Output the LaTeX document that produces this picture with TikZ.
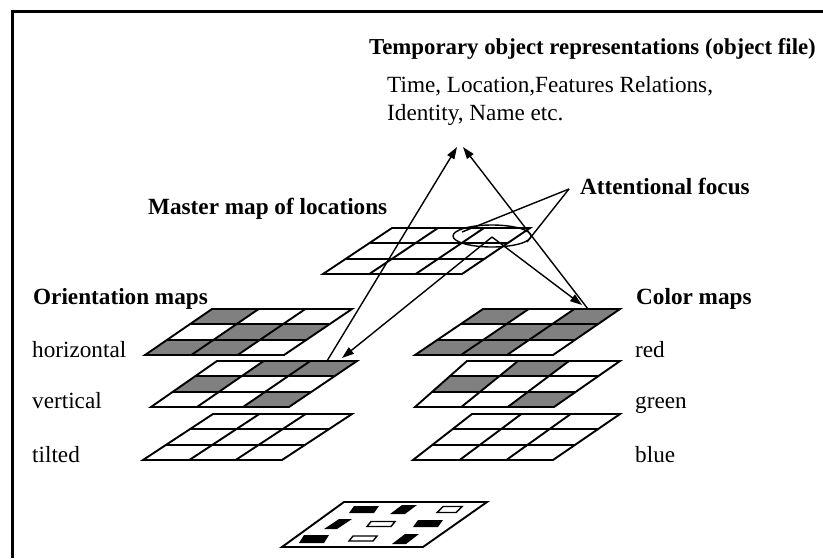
\documentclass[tikz,border=0pt]{standalone}
\usepackage{fontspec}
\setmainfont{Liberation Serif}
\usetikzlibrary{calc,arrows.meta,shapes.geometric}

\tikzset{
  gridline/.style={line width=1.9pt, line join=miter},
  cellgray/.style={fill=black!50},
  link/.style={line width=1.4pt},
  linkarrow/.style={link, -{Triangle[length=12pt,width=8pt]}},
  heading/.style={font=\fontsize{23.2}{27}\selectfont\bfseries, anchor=base west, inner sep=0pt},
  plain/.style={font=\fontsize{23.2}{27}\selectfont, anchor=base west, inner sep=0pt},
  ring/.style={ellipse, draw, line width=1.4pt, minimum width=78pt, minimum height=22pt, inner sep=0pt},
  stimfill/.style={fill=black},
  stimhollow/.style={draw=black, fill=white, line width=1.4pt},
}

% point (u,v) inside a quadrilateral map, u left->right, v bottom->top
\newcommand\mpt[3]{($($(#1-bl)!#2!(#1-br)$)!#3!($(#1-tl)!#2!(#1-tr)$)$)}

% corners of a 3x3 feature map
\newcommand\gridmap[5]{%
  \coordinate (#1-bl) at (#2);
  \coordinate (#1-br) at (#3);
  \coordinate (#1-tr) at (#4);
  \coordinate (#1-tl) at (#5);
}
% shaded cells, given as column/row with row 0 at the front
\newcommand\graycells[2]{%
  \foreach \c/\r in {#2}{%
    \pgfmathsetmacro\ua{\c/3}\pgfmathsetmacro\ub{(\c+1)/3}%
    \pgfmathsetmacro\va{\r/3}\pgfmathsetmacro\vb{(\r+1)/3}%
    \fill[cellgray] \mpt{#1}{\ua}{\va} -- \mpt{#1}{\ub}{\va} -- \mpt{#1}{\ub}{\vb} -- \mpt{#1}{\ua}{\vb} -- cycle;
  }%
}
\newcommand\gridlines[1]{%
  \foreach \t in {0.33333,0.66667}{%
    \draw[gridline] ($(#1-bl)!\t!(#1-br)$) -- ($(#1-tl)!\t!(#1-tr)$);
    \draw[gridline] ($(#1-bl)!\t!(#1-tl)$) -- ($(#1-br)!\t!(#1-tr)$);
  }%
  \draw[gridline] (#1-bl) -- (#1-br) -- (#1-tr) -- (#1-tl) -- cycle;
}
% item on the stimulus plane: top-left x, top-right x, bottom-right x, bottom-left x, top y, bottom y
\newcommand\stimitem[7]{%
  \path[#1] (#2,#6) -- (#3,#6) -- (#4,#7) -- (#5,#7) -- cycle;
}

\begin{document}
\begin{tikzpicture}[x=1pt,y=-1pt]
\useasboundingbox (0,0) rectangle (823,558);

% frame
\draw[line width=3pt] (12.5,558) -- (12.5,11.5) -- (823,11.5);

% texts
\node[heading, font=\fontsize{22.8}{27}\selectfont\bfseries] (title) at (369,54) {Temporary object representations (object file)};
\node[plain] (attrs1) at (387,92) {Time, Location,Features Relations,};
\node[plain] (attrs2) at (387,120) {Identity, Name etc.};
\node[heading] (master) at (148,214) {Master map of locations};
\node[heading] (attn) at (580,194) {Attentional focus};
\node[heading] (orient) at (33,304) {Orientation maps};
\node[heading] (color) at (636,304) {Color maps};
\node[plain] (horiz) at (32,357) {horizontal};
\node[plain] (vert) at (32,408) {vertical};
\node[plain] (tilt) at (32,462) {tilted};
\node[plain] (red) at (635,357) {red};
\node[plain] (green) at (635,408) {green};
\node[plain] (blue) at (635,462) {blue};

% maps
\gridmap{mm}{323,274}{462,274}{530,228}{392,228}
\gridmap{o1}{145,355}{284,355}{352,309}{212,309}
\gridmap{o2}{151,407}{289,407}{357,361}{217,361}
\gridmap{o3}{143,460}{282,460}{352,414}{213,414}
\gridmap{c1}{415,355}{553,355}{620,309}{483,309}
\gridmap{c2}{415,407}{554,407}{620,361}{467,361}
\gridmap{c3}{413,460}{553,460}{620,414}{472,414}

\graycells{o1}{0/2,1/1,2/1,0/0,1/0}
\graycells{o2}{1/2,2/2,0/1,2/0}
\graycells{c1}{0/2,2/2,1/1,2/1,0/0,1/0}
\graycells{c2}{1/2,0/1,2/0}
\foreach \m in {mm,o1,o2,o3,c1,c2,c3}{\gridlines{\m}}

% stimulus plane
\draw[gridline] (282,547) -- (423,547) -- (487,502) -- (344,502) -- cycle;
\stimitem{stimfill}{354}{379}{374}{349}{506}{513}
\stimitem{stimfill}{402}{417}{405}{390}{505}{514}
\stimitem{stimhollow}{443}{462}{456}{437}{506.5}{512.5}
\stimitem{stimfill}{339}{352}{337}{324}{519}{529}
\stimitem{stimhollow}{371}{395}{391}{367}{521.5}{526.5}
\stimitem{stimfill}{418}{443}{438}{413}{520}{527}
\stimitem{stimfill}{304}{329}{324}{299}{535}{543}
\stimitem{stimhollow}{353}{377}{373}{349}{536}{541}
\stimitem{stimfill}{405}{419}{406}{392}{534}{544}

% attention and links
\node[ring] (focusring) at (492,236) {};
\coordinate (apexl) at (457,147);
\coordinate (apexr) at (463,147);
\coordinate (o2src) at (327,361);
\coordinate (c1src) at (588,309);
\coordinate (focus) at (492,237);
\coordinate (o2tip) at (342,358);
\coordinate (c1tip) at (582,305);
\coordinate (attnpt) at (569,189);
\coordinate (ringl) at (462,232);
\coordinate (ringr) at (527,242);

\draw[linkarrow] (o2src) -- (apexl);
\draw[linkarrow] (c1src) -- (apexr);
\draw[linkarrow] (focus) -- (o2tip);
\draw[linkarrow] (focus) -- (c1tip);
\draw[link] (attnpt) -- (ringl);
\draw[link] (attnpt) -- (ringr);
\end{tikzpicture}
\end{document}
